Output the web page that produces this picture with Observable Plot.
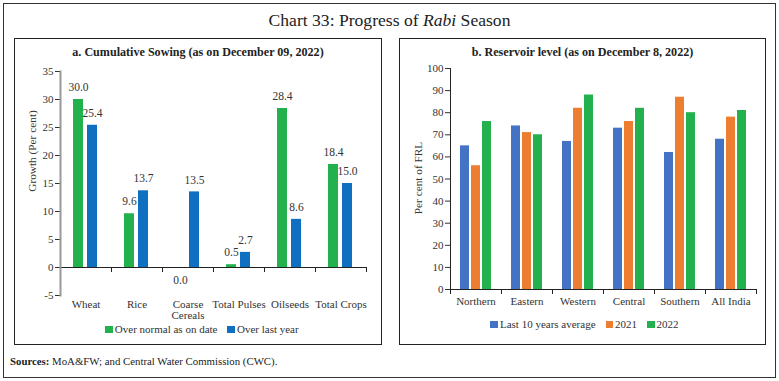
<!DOCTYPE html>
<html><head><meta charset="utf-8">
<script src="https://cdn.jsdelivr.net/npm/d3@7"></script>
<script src="https://cdn.jsdelivr.net/npm/@observablehq/plot@0.6"></script>
<style>
html,body{margin:0;padding:0;background:#fff}
#page{position:relative;width:779px;height:381px;overflow:hidden;font-family:"Liberation Serif",serif;color:#222}
.abs{position:absolute;box-sizing:border-box}
#outer{left:3px;top:3px;width:773px;height:375px;border:1.5px solid #333}
.panel{top:38px;height:307px;border:1.5px solid #222}
#pa{left:14px;width:368px}
#pb{left:399px;width:367px}
.title{font-size:17.6px;left:0;width:779px;text-align:center;top:10px}
.ptitle{font-weight:bold;font-size:12.1px;text-align:center;top:45px;white-space:nowrap}
.ylab{font-size:11.3px;white-space:nowrap;transform:translate(-50%,-50%) rotate(-90deg);color:#333}
.legend{display:flex;justify-content:center;gap:10px;font-size:11px;white-space:nowrap;color:#333}
.legend span.sw{display:inline-block;width:7.5px;height:7.5px;margin-right:2px;vertical-align:0px}
.src{left:10px;top:355px;font-size:10.8px;color:#222}
#cha svg,#chb svg{max-width:none;display:block}
</style></head>
<body>
<div id="page">
  <div class="abs" id="outer"></div>
  <div class="abs panel" id="pa"></div>
  <div class="abs panel" id="pb"></div>
  <div class="abs title">Chart 33: Progress of <i>Rabi</i> Season</div>
  <div class="abs ptitle" style="left:14px;width:368px">a. Cumulative Sowing (as on December 09, 2022)</div>
  <div class="abs ptitle" style="left:399px;width:367px">b. Reservoir level (as on December 8, 2022)</div>
  <div class="abs ylab" style="left:32px;top:151px">Growth (Per cent)</div>
  <div class="abs ylab" style="left:418px;top:178px">Per cent of FRL</div>
  <div class="abs legend" id="lega" style="left:18px;width:368px;top:323px"></div>
  <div class="abs legend" id="legb" style="left:401px;width:367px;top:318px"></div>
  <div class="abs src"><b>Sources:</b> MoA&amp;FW; and Central Water Commission (CWC).</div>
  <div id="cha" class="abs" style="left:0;top:0;width:390px;height:345px"></div>
  <div id="chb" class="abs" style="left:390px;top:0;width:389px;height:345px"></div>
</div>
<script>
// ---- Panel a data ----
const cropCats = ["Wheat", "Rice", "Coarse Cereals", "Total Pulses", "Oilseeds", "Total Crops"];
const sowSeries = ["Over normal as on date", "Over last year"];
const sowNormal = [30.0, 9.6, 0.0, 0.5, 28.4, 18.4];
const sowLastYear = [25.4, 13.7, 13.5, 2.7, 8.6, 15.0];
const yTicksA = [-5, 0, 5, 10, 15, 20, 25, 30, 35];
const colorsA = ["#22b14c", "#0f6fc0"];

// ---- Panel b data ----
const regions = ["Northern", "Eastern", "Western", "Central", "Southern", "All India"];
const resSeries = ["Last 10 years average", "2021", "2022"];
const res10yr = [65, 74, 67, 73, 62, 68];
const res2021 = [56, 71, 82, 76, 87, 78];
const res2022 = [76, 70, 88, 82, 80, 81];
const yTicksB = [0, 10, 20, 30, 40, 50, 60, 70, 80, 90, 100];
const colorsB = ["#4472c4", "#ed7d31", "#22b14c"];

const sowData = [];
cropCats.forEach((c, i) => {
  sowData.push({cat: c, series: sowSeries[0], value: sowNormal[i]});
  sowData.push({cat: c, series: sowSeries[1], value: sowLastYear[i]});
});
const resData = [];
regions.forEach((r, i) => {
  [res10yr, res2021, res2022].forEach((arr, j) => resData.push({cat: r, series: resSeries[j], value: arr[i]}));
});

const font = {fontFamily: "Liberation Serif, serif", fontSize: "11px", color: "#333", background: "transparent", overflow: "visible", maxWidth: "none"};

function makeChart({data, cats, series, colors, yDomain, yTicks, width, height, mt, mb, ml, mr, barW, gap, axisColor, axisW, labels, tickPad, fmt}) {
  const yScale = Plot.scale({y: {domain: yDomain, range: [height - mb, mt]}});
  const y0 = yScale.apply(0);
  const tickLen = 4;
  const insetTop = y0 - mt;
  const insetBottom = (height - mb) - (y0 + tickLen);
  const facetW = (width - ml - mr) / cats.length;
  const step = barW + gap;
  const n = series.length;
  const pInner = gap / step;
  const pOuter = (facetW / step - (n - pInner)) / 2;
  const marks = [
    Plot.barY(data, {fx: "cat", x: "series", y: "value", fill: "series"}),
    Plot.ruleY([0], {stroke: "#222", strokeWidth: 1}),
    Plot.frame({anchor: "left", insetTop, insetBottom, stroke: "#222", strokeWidth: 1}),
    Plot.frame({anchor: "right", facetAnchor: "right", insetTop, insetBottom, stroke: "#222", strokeWidth: 1}),
    Plot.frame({anchor: "left", facetAnchor: "left", stroke: axisColor, strokeWidth: axisW})
  ];
  if (labels) {
    marks.push(Plot.text(data.filter(d => d.value > 0), {fx: "cat", x: "series", y: "value", text: d => d.value.toFixed(1), dy: -12, fill: "#333", fontSize: 11.5}));
    marks.push(Plot.text(data.filter(d => d.value <= 0), {fx: "cat", x: "series", y: "value", text: d => d.value.toFixed(1), dy: 13, fill: "#333", fontSize: 11.5}));
  }
  return Plot.plot({
    width, height, marginTop: mt, marginBottom: mb, marginLeft: ml, marginRight: mr,
    style: font,
    fx: {domain: cats, padding: 0, label: null, axis: "bottom", tickSize: 0, tickPadding: tickPad, tickFormat: fmt},
    x: {domain: series, paddingInner: pInner, paddingOuter: pOuter, axis: null},
    y: {domain: yDomain, ticks: yTicks, tickSize: 5, tickPadding: 2, label: null, tickFormat: d => String(d)},
    color: {domain: series, range: colors},
    marks
  });
}

document.getElementById("cha").appendChild(makeChart({
  data: sowData, cats: cropCats, series: sowSeries, colors: colorsA, yDomain: [-5, 35], yTicks: yTicksA,
  width: 390, height: 345, mt: 71, mb: 50, ml: 58, mr: 22, barW: 11, gap: 4, axisColor: "#999", axisW: 2,
  labels: true, tickPad: 5, fmt: d => d === "Coarse Cereals" ? "Coarse\nCereals" : d
}));
document.getElementById("chb").appendChild(makeChart({
  data: resData, cats: regions, series: resSeries, colors: colorsB, yDomain: [0, 100], yTicks: yTicksB,
  width: 389, height: 345, mt: 68, mb: 56, ml: 59, mr: 22, barW: 9, gap: 2.5, axisColor: "#222", axisW: 1,
  labels: false, tickPad: 8, fmt: d => d
}));

function legend(el, series, colors) {
  series.forEach((s, i) => {
    const item = document.createElement("div");
    item.innerHTML = `<span class="sw" style="background:${colors[i]}"></span>${s}`;
    el.appendChild(item);
  });
}
legend(document.getElementById("lega"), sowSeries, colorsA);
legend(document.getElementById("legb"), resSeries, colorsB);
</script>
</body></html>
